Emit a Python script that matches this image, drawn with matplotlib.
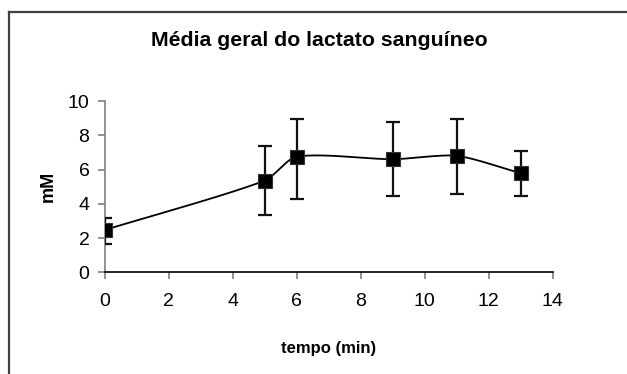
import numpy as np
import matplotlib
matplotlib.use("Agg")
import matplotlib.pyplot as plt
from matplotlib.lines import Line2D

tempo = [0, 5, 6, 9, 11, 13]
media = [2.47, 5.35, 6.75, 6.60, 6.80, 5.78]
err_sup = [3.15, 7.39, 8.95, 8.75, 8.95, 7.08]
err_inf = [1.67, 3.35, 4.28, 4.47, 4.57, 4.47]
xticks = [0, 2, 4, 6, 8, 10, 12, 14]
yticks = [0, 2, 4, 6, 8, 10]

plt.rcParams['font.family'] = ['Liberation Sans', 'DejaVu Sans']

W, H = 627, 374
fig = plt.figure(figsize=(W / 100, H / 100), dpi=100)
ax = fig.add_axes([104.7 / W, 1 - 272.3 / H, (552.7 - 104.7) / W, (272.3 - 101) / H])

# Excel-like smoothed line: Bezier with tangents scaled by segment length (in pixel space)
sx = (552.7 - 104.7) / 14.0
sy = (272.3 - 101) / 10.0
x = np.array(tempo, float) * sx
y = np.array(media, float) * sy
P = np.stack([x, y], axis=1)
n = len(P)
tang = []
for i in range(n):
    a = P[max(i - 1, 0)]
    b = P[min(i + 1, n - 1)]
    d = b - a
    tang.append(d / np.linalg.norm(d))
tang = np.array(tang)
cx, cy = [], []
k = 0.25
for i in range(n - 1):
    p0, p3 = P[i], P[i + 1]
    L = np.linalg.norm(p3 - p0)
    p1 = p0 + tang[i] * L * k
    p2 = p3 - tang[i + 1] * L * k
    t = np.linspace(0, 1, 40)[:, None]
    bz = (1 - t) ** 3 * p0 + 3 * (1 - t) ** 2 * t * p1 + 3 * (1 - t) * t ** 2 * p2 + t ** 3 * p3
    cx.extend(bz[:, 0] / sx); cy.extend(bz[:, 1] / sy)
ax.plot(cx, cy, color='black', lw=1.3, zorder=2)

yerr = [np.array(media) - np.array(err_inf), np.array(err_sup) - np.array(media)]
ax.errorbar(tempo, media, yerr=yerr, fmt='none', ecolor='#111111', elinewidth=1.6,
            capsize=5, capthick=1.6, zorder=3)
ax.plot(tempo, media, linestyle='none', marker='s', markersize=10,
        markerfacecolor='black', markeredgecolor='#333333', markeredgewidth=0.8, zorder=4)

ax.set_xlim(0, 14)
ax.set_ylim(0, 10)
ax.set_xticks(xticks)
ax.set_yticks(yticks)
ax.tick_params(axis='both', labelsize=14, direction='out', length=5, color='#808080', width=1.2)
ax.tick_params(axis='x', pad=10)
ax.tick_params(axis='y', pad=6)
for s in ['top', 'right']:
    ax.spines[s].set_visible(False)
ax.spines['left'].set_color('#808080')
ax.spines['left'].set_linewidth(1.2)
ax.spines['bottom'].set_color('black')
ax.spines['bottom'].set_linewidth(1.2)

ax.set_xlabel('tempo (min)', fontsize=12, fontweight='bold', labelpad=22)
ax.set_ylabel('mM', fontsize=13, fontweight='bold', labelpad=8)
fig.text(319 / W, 1 - 40 / H, 'Média geral do lactato sanguíneo', ha='center', va='center',
         fontsize=15.3, fontweight='bold')

# outer frame (chart area border)
fig.add_artist(Line2D([8.5 / W, 8.5 / W], [0, 1 - 11.7 / H], transform=fig.transFigure,
                      color='#404040', lw=1.6))
fig.add_artist(Line2D([8.5 / W, 1], [1 - 11.7 / H, 1 - 11.7 / H], transform=fig.transFigure,
                      color='#404040', lw=1.6))

fig.savefig('out.png', dpi=100)
